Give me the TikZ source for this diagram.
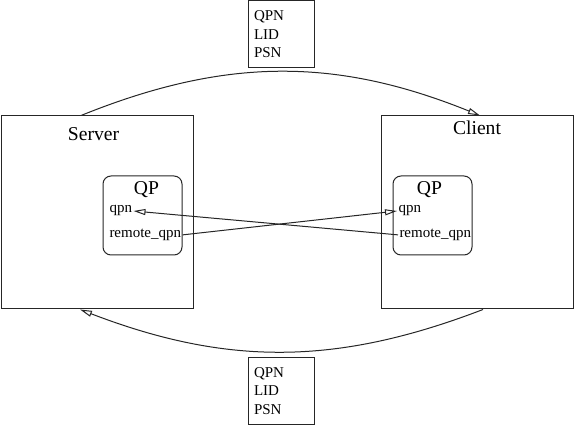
\documentclass[tikz,border=0pt]{standalone}
\usepackage{fontspec}
\setmainfont{Liberation Serif}
\usetikzlibrary{arrows.meta}
\newlength{\basisb}
\setlength{\basisb}{0.75pt}

\begin{document}
\begin{tikzpicture}[line width=0.75pt, color=black!85,
    hostbox/.style={draw, minimum width=192\basisb, minimum height=193\basisb, inner sep=0},
    qpbox/.style={draw, rounded corners=8\basisb, minimum width=79\basisb, minimum height=79\basisb, inner sep=0},
    bigtext/.style={font=\fontsize{14.7}{17}\selectfont, text=black, inner sep=0, anchor=base},
    smalltext/.style={font=\fontsize{11.25}{13.9}\selectfont, text=black, inner sep=1\basisb, anchor=base west},
    infobox/.style={draw, font=\fontsize{11.25}{13.9}\selectfont, text=black, align=left, text width=54\basisb,
        inner xsep=6\basisb, inner ysep=0, minimum height=67\basisb},
    xfig/.style={-{Triangle[open, length=9pt, width=4.5pt]}}]
    \useasboundingbox (0,0) rectangle (575\basisb,425\basisb);

    % hosts
    \draw (97\basisb,212.5\basisb) node[hostbox] (Server) {};
    \draw (477\basisb,212.5\basisb) node[hostbox] (Client) {};
    \draw (93.5\basisb,284\basisb) node[bigtext] (ServerLabel) {Server};
    \draw (477\basisb,290\basisb) node[bigtext] (ClientLabel) {Client};

    % queue pairs
    \draw (142.5\basisb,209.5\basisb) node[qpbox] (ServerQP) {};
    \draw (432.5\basisb,209.5\basisb) node[qpbox] (ClientQP) {};
    \draw (146.5\basisb,230\basisb) node[bigtext] (ServerQPLabel) {QP};
    \draw (429.5\basisb,230\basisb) node[bigtext] (ClientQPLabel) {QP};
    \draw (108\basisb,212\basisb) node[smalltext] (ServerQpn) {qpn};
    \draw (108\basisb,187.5\basisb) node[smalltext] (ServerRemote) {remote\_qpn};
    \draw (397\basisb,212\basisb) node[smalltext] (ClientQpn) {qpn};
    \draw (398\basisb,187.5\basisb) node[smalltext] (ClientRemote) {remote\_qpn};

    % exchanged data
    \draw (281\basisb,390.5\basisb) node[infobox] (InfoTop) {QPN\\LID\\PSN};
    \draw (281\basisb,34\basisb) node[infobox] (InfoBottom) {QPN\\LID\\PSN};

    \draw[xfig] ([xshift=-16\basisb]Server.north) to[bend left=22] ([xshift=3\basisb]Client.north);
    \draw[xfig] ([xshift=6\basisb]Client.south) to[bend left=21] ([xshift=-17\basisb]Server.south);
    \draw[xfig] (ServerRemote.east) -- (ClientQpn.west);
    \draw[xfig] (ClientRemote.west) -- (ServerQpn.east);
\end{tikzpicture}
\end{document}
